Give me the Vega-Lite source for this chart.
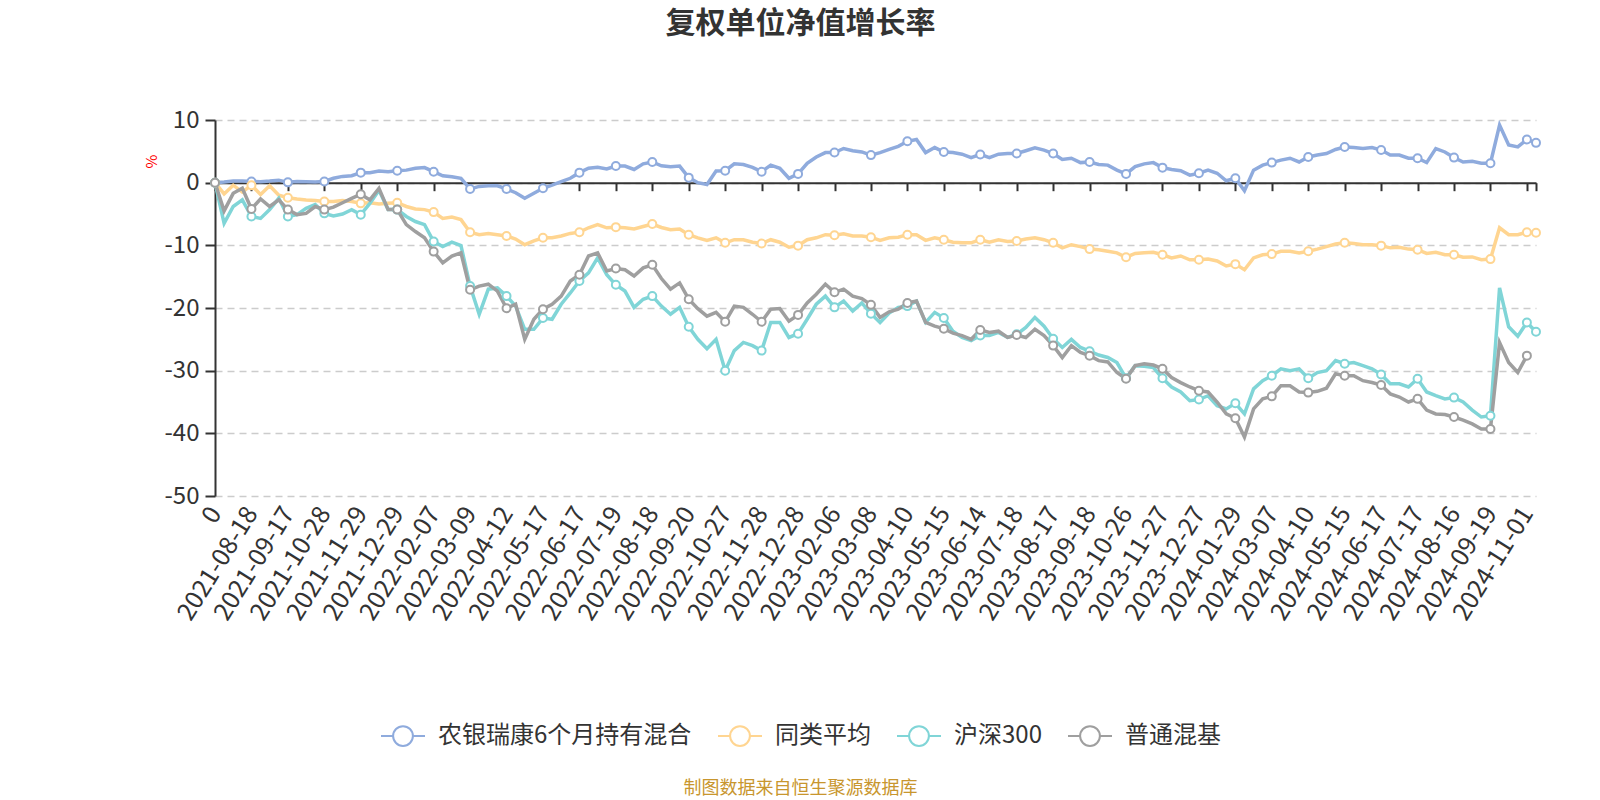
{
"$schema":"https://vega.github.io/schema/vega-lite/v6.json",
"width":1321,"height":376,
"autosize":"none",
"padding":{"left":215,"top":120,"right":64,"bottom":304},
"background":"#ffffff",
"config":{"view":{"stroke":null},"font":"Noto Sans CJK SC"},
"title":{"text":"复权单位净值增长率","fontSize":30,"fontWeight":"bold","color":"#333333","anchor":"middle","frame":"group","dx":-75,"baseline":"middle","offset":54},
"datasets":{"rows":[
{"d":"0","s":"农银瑞康6个月持有混合","v":0},{"d":"2021-07-27","s":"农银瑞康6个月持有混合","v":0.1},{"d":"2021-08-03","s":"农银瑞康6个月持有混合","v":0.25},{"d":"2021-08-10","s":"农银瑞康6个月持有混合","v":0.25},
{"d":"2021-08-18","s":"农银瑞康6个月持有混合","v":0.2},{"d":"2021-08-25","s":"农银瑞康6个月持有混合","v":0.15},{"d":"2021-09-01","s":"农银瑞康6个月持有混合","v":0.25},{"d":"2021-09-09","s":"农银瑞康6个月持有混合","v":0.4},
{"d":"2021-09-17","s":"农银瑞康6个月持有混合","v":0.05},{"d":"2021-09-29","s":"农银瑞康6个月持有混合","v":0.2},{"d":"2021-10-12","s":"农银瑞康6个月持有混合","v":0.15},{"d":"2021-10-20","s":"农银瑞康6个月持有混合","v":0.1},
{"d":"2021-10-28","s":"农银瑞康6个月持有混合","v":0.2},{"d":"2021-11-04","s":"农银瑞康6个月持有混合","v":0.7},{"d":"2021-11-12","s":"农银瑞康6个月持有混合","v":1.0},{"d":"2021-11-19","s":"农银瑞康6个月持有混合","v":1.1},
{"d":"2021-11-29","s":"农银瑞康6个月持有混合","v":1.6},{"d":"2021-12-06","s":"农银瑞康6个月持有混合","v":1.6},{"d":"2021-12-13","s":"农银瑞康6个月持有混合","v":1.85},{"d":"2021-12-21","s":"农银瑞康6个月持有混合","v":1.75},
{"d":"2021-12-29","s":"农银瑞康6个月持有混合","v":1.9},{"d":"2022-01-07","s":"农银瑞康6个月持有混合","v":2.0},{"d":"2022-01-17","s":"农银瑞康6个月持有混合","v":2.3},{"d":"2022-01-25","s":"农银瑞康6个月持有混合","v":2.4},
{"d":"2022-02-07","s":"农银瑞康6个月持有混合","v":1.75},{"d":"2022-02-15","s":"农银瑞康6个月持有混合","v":1.1},{"d":"2022-02-22","s":"农银瑞康6个月持有混合","v":0.95},{"d":"2022-03-01","s":"农银瑞康6个月持有混合","v":0.7},
{"d":"2022-03-09","s":"农银瑞康6个月持有混合","v":-1.0},{"d":"2022-03-17","s":"农银瑞康6个月持有混合","v":-0.6},{"d":"2022-03-25","s":"农银瑞康6个月持有混合","v":-0.5},{"d":"2022-04-01","s":"农银瑞康6个月持有混合","v":-0.5},
{"d":"2022-04-12","s":"农银瑞康6个月持有混合","v":-1.0},{"d":"2022-04-20","s":"农银瑞康6个月持有混合","v":-1.6},{"d":"2022-04-28","s":"农银瑞康6个月持有混合","v":-2.5},{"d":"2022-05-09","s":"农银瑞康6个月持有混合","v":-1.7},
{"d":"2022-05-17","s":"农银瑞康6个月持有混合","v":-0.9},{"d":"2022-05-25","s":"农银瑞康6个月持有混合","v":-0.4},{"d":"2022-06-01","s":"农银瑞康6个月持有混合","v":0.15},{"d":"2022-06-09","s":"农银瑞康6个月持有混合","v":0.7},
{"d":"2022-06-17","s":"农银瑞康6个月持有混合","v":1.6},{"d":"2022-06-24","s":"农银瑞康6个月持有混合","v":2.3},{"d":"2022-07-01","s":"农银瑞康6个月持有混合","v":2.45},{"d":"2022-07-11","s":"农银瑞康6个月持有混合","v":2.2},
{"d":"2022-07-19","s":"农银瑞康6个月持有混合","v":2.65},{"d":"2022-07-26","s":"农银瑞康6个月持有混合","v":2.65},{"d":"2022-08-02","s":"农银瑞康6个月持有混合","v":2.1},{"d":"2022-08-10","s":"农银瑞康6个月持有混合","v":3.0},
{"d":"2022-08-18","s":"农银瑞康6个月持有混合","v":3.3},{"d":"2022-08-25","s":"农银瑞康6个月持有混合","v":2.7},{"d":"2022-09-01","s":"农银瑞康6个月持有混合","v":2.55},{"d":"2022-09-09","s":"农银瑞康6个月持有混合","v":2.65},
{"d":"2022-09-20","s":"农银瑞康6个月持有混合","v":0.8},{"d":"2022-09-27","s":"农银瑞康6个月持有混合","v":0.0},{"d":"2022-10-12","s":"农银瑞康6个月持有混合","v":-0.3},{"d":"2022-10-19","s":"农银瑞康6个月持有混合","v":1.85},
{"d":"2022-10-27","s":"农银瑞康6个月持有混合","v":1.9},{"d":"2022-11-03","s":"农银瑞康6个月持有混合","v":3.0},{"d":"2022-11-10","s":"农银瑞康6个月持有混合","v":2.9},{"d":"2022-11-18","s":"农银瑞康6个月持有混合","v":2.45},
{"d":"2022-11-28","s":"农银瑞康6个月持有混合","v":1.75},{"d":"2022-12-05","s":"农银瑞康6个月持有混合","v":2.8},{"d":"2022-12-12","s":"农银瑞康6个月持有混合","v":2.3},{"d":"2022-12-20","s":"农银瑞康6个月持有混合","v":0.7},
{"d":"2022-12-28","s":"农银瑞康6个月持有混合","v":1.4},{"d":"2023-01-05","s":"农银瑞康6个月持有混合","v":3.1},{"d":"2023-01-12","s":"农银瑞康6个月持有混合","v":4.1},{"d":"2023-01-19","s":"农银瑞康6个月持有混合","v":4.8},
{"d":"2023-02-06","s":"农银瑞康6个月持有混合","v":4.8},{"d":"2023-02-13","s":"农银瑞康6个月持有混合","v":5.45},{"d":"2023-02-20","s":"农银瑞康6个月持有混合","v":5.1},{"d":"2023-02-28","s":"农银瑞康6个月持有混合","v":4.9},
{"d":"2023-03-08","s":"农银瑞康6个月持有混合","v":4.4},{"d":"2023-03-15","s":"农银瑞康6个月持有混合","v":4.8},{"d":"2023-03-23","s":"农银瑞康6个月持有混合","v":5.3},{"d":"2023-03-31","s":"农银瑞康6个月持有混合","v":5.8},
{"d":"2023-04-10","s":"农银瑞康6个月持有混合","v":6.6},{"d":"2023-04-18","s":"农银瑞康6个月持有混合","v":6.9},{"d":"2023-04-25","s":"农银瑞康6个月持有混合","v":4.8},{"d":"2023-05-05","s":"农银瑞康6个月持有混合","v":5.6},
{"d":"2023-05-15","s":"农银瑞康6个月持有混合","v":4.9},{"d":"2023-05-22","s":"农银瑞康6个月持有混合","v":4.8},{"d":"2023-05-30","s":"农银瑞康6个月持有混合","v":4.55},{"d":"2023-06-06","s":"农银瑞康6个月持有混合","v":4.0},
{"d":"2023-06-14","s":"农银瑞康6个月持有混合","v":4.5},{"d":"2023-06-21","s":"农银瑞康6个月持有混合","v":4.0},{"d":"2023-07-03","s":"农银瑞康6个月持有混合","v":4.55},{"d":"2023-07-10","s":"农银瑞康6个月持有混合","v":4.65},
{"d":"2023-07-18","s":"农银瑞康6个月持有混合","v":4.65},{"d":"2023-07-25","s":"农银瑞康6个月持有混合","v":5.1},{"d":"2023-08-02","s":"农银瑞康6个月持有混合","v":5.55},{"d":"2023-08-09","s":"农银瑞康6个月持有混合","v":5.2},
{"d":"2023-08-17","s":"农银瑞康6个月持有混合","v":4.65},{"d":"2023-08-24","s":"农银瑞康6个月持有混合","v":3.7},{"d":"2023-09-01","s":"农银瑞康6个月持有混合","v":3.9},{"d":"2023-09-08","s":"农银瑞康6个月持有混合","v":3.2},
{"d":"2023-09-18","s":"农银瑞康6个月持有混合","v":3.3},{"d":"2023-09-25","s":"农银瑞康6个月持有混合","v":2.9},{"d":"2023-10-09","s":"农银瑞康6个月持有混合","v":2.8},{"d":"2023-10-17","s":"农银瑞康6个月持有混合","v":2.0},
{"d":"2023-10-26","s":"农银瑞康6个月持有混合","v":1.4},{"d":"2023-11-02","s":"农银瑞康6个月持有混合","v":2.55},{"d":"2023-11-09","s":"农银瑞康6个月持有混合","v":3.0},{"d":"2023-11-17","s":"农银瑞康6个月持有混合","v":3.2},
{"d":"2023-11-27","s":"农银瑞康6个月持有混合","v":2.4},{"d":"2023-12-04","s":"农银瑞康6个月持有混合","v":2.1},{"d":"2023-12-11","s":"农银瑞康6个月持有混合","v":1.9},{"d":"2023-12-19","s":"农银瑞康6个月持有混合","v":1.2},
{"d":"2023-12-27","s":"农银瑞康6个月持有混合","v":1.5},{"d":"2024-01-04","s":"农银瑞康6个月持有混合","v":2.0},{"d":"2024-01-12","s":"农银瑞康6个月持有混合","v":1.5},{"d":"2024-01-19","s":"农银瑞康6个月持有混合","v":0.3},
{"d":"2024-01-29","s":"农银瑞康6个月持有混合","v":0.7},{"d":"2024-02-05","s":"农银瑞康6个月持有混合","v":-1.3},{"d":"2024-02-20","s":"农银瑞康6个月持有混合","v":2.0},{"d":"2024-02-28","s":"农银瑞康6个月持有混合","v":2.8},
{"d":"2024-03-07","s":"农银瑞康6个月持有混合","v":3.2},{"d":"2024-03-14","s":"农银瑞康6个月持有混合","v":3.6},{"d":"2024-03-22","s":"农银瑞康6个月持有混合","v":3.9},{"d":"2024-03-29","s":"农银瑞康6个月持有混合","v":3.3},
{"d":"2024-04-10","s":"农银瑞康6个月持有混合","v":4.1},{"d":"2024-04-18","s":"农银瑞康6个月持有混合","v":4.4},{"d":"2024-04-25","s":"农银瑞康6个月持有混合","v":4.65},{"d":"2024-05-07","s":"农银瑞康6个月持有混合","v":5.3},
{"d":"2024-05-15","s":"农银瑞康6个月持有混合","v":5.7},{"d":"2024-05-22","s":"农银瑞康6个月持有混合","v":5.6},{"d":"2024-05-29","s":"农银瑞康6个月持有混合","v":5.45},{"d":"2024-06-05","s":"农银瑞康6个月持有混合","v":5.6},
{"d":"2024-06-17","s":"农银瑞康6个月持有混合","v":5.2},{"d":"2024-06-24","s":"农银瑞康6个月持有混合","v":4.4},{"d":"2024-07-01","s":"农银瑞康6个月持有混合","v":4.4},{"d":"2024-07-09","s":"农银瑞康6个月持有混合","v":3.9},
{"d":"2024-07-17","s":"农银瑞康6个月持有混合","v":3.9},{"d":"2024-07-24","s":"农银瑞康6个月持有混合","v":3.2},{"d":"2024-07-31","s":"农银瑞康6个月持有混合","v":5.45},{"d":"2024-08-08","s":"农银瑞康6个月持有混合","v":4.9},
{"d":"2024-08-16","s":"农银瑞康6个月持有混合","v":4.0},{"d":"2024-08-23","s":"农银瑞康6个月持有混合","v":3.3},{"d":"2024-08-30","s":"农银瑞康6个月持有混合","v":3.4},{"d":"2024-09-06","s":"农银瑞康6个月持有混合","v":3.1},
{"d":"2024-09-19","s":"农银瑞康6个月持有混合","v":3.1},{"d":"2024-09-26","s":"农银瑞康6个月持有混合","v":9.2},{"d":"2024-10-11","s":"农银瑞康6个月持有混合","v":6.0},{"d":"2024-10-22","s":"农银瑞康6个月持有混合","v":5.7},
{"d":"2024-11-01","s":"农银瑞康6个月持有混合","v":6.9},{"d":"2024-11-06","s":"农银瑞康6个月持有混合","v":6.35},

{"d":"0","s":"同类平均","v":0},{"d":"2021-07-27","s":"同类平均","v":-1.8},{"d":"2021-08-03","s":"同类平均","v":-0.4},{"d":"2021-08-10","s":"同类平均","v":-1.5},
{"d":"2021-08-18","s":"同类平均","v":-0.4},{"d":"2021-08-25","s":"同类平均","v":-1.9},{"d":"2021-09-01","s":"同类平均","v":-0.5},{"d":"2021-09-09","s":"同类平均","v":-2.0},
{"d":"2021-09-17","s":"同类平均","v":-2.4},{"d":"2021-09-29","s":"同类平均","v":-2.6},{"d":"2021-10-12","s":"同类平均","v":-2.75},{"d":"2021-10-20","s":"同类平均","v":-2.85},
{"d":"2021-10-28","s":"同类平均","v":-3.0},{"d":"2021-11-04","s":"同类平均","v":-3.0},{"d":"2021-11-12","s":"同类平均","v":-2.85},{"d":"2021-11-19","s":"同类平均","v":-3.0},
{"d":"2021-11-29","s":"同类平均","v":-3.3},{"d":"2021-12-06","s":"同类平均","v":-3.2},{"d":"2021-12-13","s":"同类平均","v":-3.4},{"d":"2021-12-21","s":"同类平均","v":-3.3},
{"d":"2021-12-29","s":"同类平均","v":-3.2},{"d":"2022-01-07","s":"同类平均","v":-3.8},{"d":"2022-01-17","s":"同类平均","v":-4.2},{"d":"2022-01-25","s":"同类平均","v":-4.3},
{"d":"2022-02-07","s":"同类平均","v":-4.7},{"d":"2022-02-15","s":"同类平均","v":-5.7},{"d":"2022-02-22","s":"同类平均","v":-5.5},{"d":"2022-03-01","s":"同类平均","v":-5.9},
{"d":"2022-03-09","s":"同类平均","v":-7.9},{"d":"2022-03-17","s":"同类平均","v":-8.3},{"d":"2022-03-25","s":"同类平均","v":-8.1},{"d":"2022-04-01","s":"同类平均","v":-8.3},
{"d":"2022-04-12","s":"同类平均","v":-8.5},{"d":"2022-04-20","s":"同类平均","v":-9.0},{"d":"2022-04-28","s":"同类平均","v":-9.9},{"d":"2022-05-09","s":"同类平均","v":-9.3},
{"d":"2022-05-17","s":"同类平均","v":-8.8},{"d":"2022-05-25","s":"同类平均","v":-8.8},{"d":"2022-06-01","s":"同类平均","v":-8.5},{"d":"2022-06-09","s":"同类平均","v":-8.1},
{"d":"2022-06-17","s":"同类平均","v":-7.9},{"d":"2022-06-24","s":"同类平均","v":-7.2},{"d":"2022-07-01","s":"同类平均","v":-6.7},{"d":"2022-07-11","s":"同类平均","v":-7.2},
{"d":"2022-07-19","s":"同类平均","v":-7.1},{"d":"2022-07-26","s":"同类平均","v":-7.2},{"d":"2022-08-02","s":"同类平均","v":-7.4},{"d":"2022-08-10","s":"同类平均","v":-7.0},
{"d":"2022-08-18","s":"同类平均","v":-6.6},{"d":"2022-08-25","s":"同类平均","v":-7.15},{"d":"2022-09-01","s":"同类平均","v":-7.5},{"d":"2022-09-09","s":"同类平均","v":-7.4},
{"d":"2022-09-20","s":"同类平均","v":-8.3},{"d":"2022-09-27","s":"同类平均","v":-8.8},{"d":"2022-10-12","s":"同类平均","v":-9.2},{"d":"2022-10-19","s":"同类平均","v":-8.8},
{"d":"2022-10-27","s":"同类平均","v":-9.6},{"d":"2022-11-03","s":"同类平均","v":-9.1},{"d":"2022-11-10","s":"同类平均","v":-9.1},{"d":"2022-11-18","s":"同类平均","v":-9.5},
{"d":"2022-11-28","s":"同类平均","v":-9.7},{"d":"2022-12-05","s":"同类平均","v":-9.1},{"d":"2022-12-12","s":"同类平均","v":-9.5},{"d":"2022-12-20","s":"同类平均","v":-10.3},
{"d":"2022-12-28","s":"同类平均","v":-10.05},{"d":"2023-01-05","s":"同类平均","v":-9.1},{"d":"2023-01-12","s":"同类平均","v":-8.8},{"d":"2023-01-19","s":"同类平均","v":-8.3},
{"d":"2023-02-06","s":"同类平均","v":-8.4},{"d":"2023-02-13","s":"同类平均","v":-8.15},{"d":"2023-02-20","s":"同类平均","v":-8.5},{"d":"2023-02-28","s":"同类平均","v":-8.5},
{"d":"2023-03-08","s":"同类平均","v":-8.7},{"d":"2023-03-15","s":"同类平均","v":-9.2},{"d":"2023-03-23","s":"同类平均","v":-8.8},{"d":"2023-03-31","s":"同类平均","v":-8.7},
{"d":"2023-04-10","s":"同类平均","v":-8.3},{"d":"2023-04-18","s":"同类平均","v":-8.3},{"d":"2023-04-25","s":"同类平均","v":-9.2},{"d":"2023-05-05","s":"同类平均","v":-8.8},
{"d":"2023-05-15","s":"同类平均","v":-9.1},{"d":"2023-05-22","s":"同类平均","v":-9.5},{"d":"2023-05-30","s":"同类平均","v":-9.6},{"d":"2023-06-06","s":"同类平均","v":-9.6},
{"d":"2023-06-14","s":"同类平均","v":-9.1},{"d":"2023-06-21","s":"同类平均","v":-9.5},{"d":"2023-07-03","s":"同类平均","v":-9.1},{"d":"2023-07-10","s":"同类平均","v":-9.4},
{"d":"2023-07-18","s":"同类平均","v":-9.3},{"d":"2023-07-25","s":"同类平均","v":-9.0},{"d":"2023-08-02","s":"同类平均","v":-8.8},{"d":"2023-08-09","s":"同类平均","v":-9.1},
{"d":"2023-08-17","s":"同类平均","v":-9.6},{"d":"2023-08-24","s":"同类平均","v":-10.4},{"d":"2023-09-01","s":"同类平均","v":-9.9},{"d":"2023-09-08","s":"同类平均","v":-10.2},
{"d":"2023-09-18","s":"同类平均","v":-10.6},{"d":"2023-09-25","s":"同类平均","v":-10.7},{"d":"2023-10-09","s":"同类平均","v":-10.95},{"d":"2023-10-17","s":"同类平均","v":-11.2},
{"d":"2023-10-26","s":"同类平均","v":-11.9},{"d":"2023-11-02","s":"同类平均","v":-11.3},{"d":"2023-11-09","s":"同类平均","v":-11.2},{"d":"2023-11-17","s":"同类平均","v":-11.1},
{"d":"2023-11-27","s":"同类平均","v":-11.5},{"d":"2023-12-04","s":"同类平均","v":-12.0},{"d":"2023-12-11","s":"同类平均","v":-11.7},{"d":"2023-12-19","s":"同类平均","v":-12.3},
{"d":"2023-12-27","s":"同类平均","v":-12.3},{"d":"2024-01-04","s":"同类平均","v":-12.2},{"d":"2024-01-12","s":"同类平均","v":-12.5},{"d":"2024-01-19","s":"同类平均","v":-13.3},
{"d":"2024-01-29","s":"同类平均","v":-13.0},{"d":"2024-02-05","s":"同类平均","v":-13.9},{"d":"2024-02-20","s":"同类平均","v":-12.0},{"d":"2024-02-28","s":"同类平均","v":-11.5},
{"d":"2024-03-07","s":"同类平均","v":-11.4},{"d":"2024-03-14","s":"同类平均","v":-10.95},{"d":"2024-03-22","s":"同类平均","v":-10.95},{"d":"2024-03-29","s":"同类平均","v":-11.2},
{"d":"2024-04-10","s":"同类平均","v":-10.95},{"d":"2024-04-18","s":"同类平均","v":-10.6},{"d":"2024-04-25","s":"同类平均","v":-10.2},{"d":"2024-05-07","s":"同类平均","v":-9.8},
{"d":"2024-05-15","s":"同类平均","v":-9.6},{"d":"2024-05-22","s":"同类平均","v":-9.7},{"d":"2024-05-29","s":"同类平均","v":-9.9},{"d":"2024-06-05","s":"同类平均","v":-9.9},
{"d":"2024-06-17","s":"同类平均","v":-10.05},{"d":"2024-06-24","s":"同类平均","v":-10.4},{"d":"2024-07-01","s":"同类平均","v":-10.3},{"d":"2024-07-09","s":"同类平均","v":-10.6},
{"d":"2024-07-17","s":"同类平均","v":-10.7},{"d":"2024-07-24","s":"同类平均","v":-11.3},{"d":"2024-07-31","s":"同类平均","v":-11.1},{"d":"2024-08-08","s":"同类平均","v":-11.5},
{"d":"2024-08-16","s":"同类平均","v":-11.5},{"d":"2024-08-23","s":"同类平均","v":-11.9},{"d":"2024-08-30","s":"同类平均","v":-11.85},{"d":"2024-09-06","s":"同类平均","v":-12.3},
{"d":"2024-09-19","s":"同类平均","v":-12.2},{"d":"2024-09-26","s":"同类平均","v":-7.2},{"d":"2024-10-11","s":"同类平均","v":-8.3},{"d":"2024-10-22","s":"同类平均","v":-8.3},
{"d":"2024-11-01","s":"同类平均","v":-7.9},{"d":"2024-11-06","s":"同类平均","v":-8.0},

{"d":"0","s":"沪深300","v":0},{"d":"2021-07-27","s":"沪深300","v":-6.5},{"d":"2021-08-03","s":"沪深300","v":-3.8},{"d":"2021-08-10","s":"沪深300","v":-2.75},
{"d":"2021-08-18","s":"沪深300","v":-5.4},{"d":"2021-08-25","s":"沪深300","v":-5.7},{"d":"2021-09-01","s":"沪深300","v":-4.3},{"d":"2021-09-09","s":"沪深300","v":-2.5},
{"d":"2021-09-17","s":"沪深300","v":-5.4},{"d":"2021-09-29","s":"沪深300","v":-5.1},{"d":"2021-10-12","s":"沪深300","v":-4.1},{"d":"2021-10-20","s":"沪深300","v":-3.5},
{"d":"2021-10-28","s":"沪深300","v":-4.9},{"d":"2021-11-04","s":"沪深300","v":-5.3},{"d":"2021-11-12","s":"沪深300","v":-5.0},{"d":"2021-11-19","s":"沪深300","v":-4.3},
{"d":"2021-11-29","s":"沪深300","v":-5.1},{"d":"2021-12-06","s":"沪深300","v":-3.3},{"d":"2021-12-13","s":"沪深300","v":-1.2},{"d":"2021-12-21","s":"沪深300","v":-4.3},
{"d":"2021-12-29","s":"沪深300","v":-4.3},{"d":"2022-01-07","s":"沪深300","v":-5.4},{"d":"2022-01-17","s":"沪深300","v":-6.2},{"d":"2022-01-25","s":"沪深300","v":-6.7},
{"d":"2022-02-07","s":"沪深300","v":-9.4},{"d":"2022-02-15","s":"沪深300","v":-10.2},{"d":"2022-02-22","s":"沪深300","v":-9.5},{"d":"2022-03-01","s":"沪深300","v":-10.05},
{"d":"2022-03-09","s":"沪深300","v":-16.5},{"d":"2022-03-17","s":"沪深300","v":-21.0},{"d":"2022-03-25","s":"沪深300","v":-17.0},{"d":"2022-04-01","s":"沪深300","v":-16.8},
{"d":"2022-04-12","s":"沪深300","v":-18.1},{"d":"2022-04-20","s":"沪深300","v":-19.7},{"d":"2022-04-28","s":"沪深300","v":-23.4},{"d":"2022-05-09","s":"沪深300","v":-23.4},
{"d":"2022-05-17","s":"沪深300","v":-21.6},{"d":"2022-05-25","s":"沪深300","v":-21.8},{"d":"2022-06-01","s":"沪深300","v":-19.4},{"d":"2022-06-09","s":"沪深300","v":-17.6},
{"d":"2022-06-17","s":"沪深300","v":-15.7},{"d":"2022-06-24","s":"沪深300","v":-14.4},{"d":"2022-07-01","s":"沪深300","v":-12.0},{"d":"2022-07-11","s":"沪深300","v":-14.7},
{"d":"2022-07-19","s":"沪深300","v":-16.3},{"d":"2022-07-26","s":"沪深300","v":-17.3},{"d":"2022-08-02","s":"沪深300","v":-19.9},{"d":"2022-08-10","s":"沪深300","v":-18.6},
{"d":"2022-08-18","s":"沪深300","v":-18.1},{"d":"2022-08-25","s":"沪深300","v":-19.7},{"d":"2022-09-01","s":"沪深300","v":-21.0},{"d":"2022-09-09","s":"沪深300","v":-19.9},
{"d":"2022-09-20","s":"沪深300","v":-23.0},{"d":"2022-09-27","s":"沪深300","v":-25.0},{"d":"2022-10-12","s":"沪深300","v":-26.5},{"d":"2022-10-19","s":"沪深300","v":-25.0},
{"d":"2022-10-27","s":"沪深300","v":-30.0},{"d":"2022-11-03","s":"沪深300","v":-26.8},{"d":"2022-11-10","s":"沪深300","v":-25.5},{"d":"2022-11-18","s":"沪深300","v":-26.0},
{"d":"2022-11-28","s":"沪深300","v":-26.8},{"d":"2022-12-05","s":"沪深300","v":-22.3},{"d":"2022-12-12","s":"沪深300","v":-22.3},{"d":"2022-12-20","s":"沪深300","v":-24.7},
{"d":"2022-12-28","s":"沪深300","v":-24.1},{"d":"2023-01-05","s":"沪深300","v":-21.8},{"d":"2023-01-12","s":"沪深300","v":-19.4},{"d":"2023-01-19","s":"沪深300","v":-18.1},
{"d":"2023-02-06","s":"沪深300","v":-19.9},{"d":"2023-02-13","s":"沪深300","v":-18.9},{"d":"2023-02-20","s":"沪深300","v":-20.5},{"d":"2023-02-28","s":"沪深300","v":-19.2},
{"d":"2023-03-08","s":"沪深300","v":-20.9},{"d":"2023-03-15","s":"沪深300","v":-22.3},{"d":"2023-03-23","s":"沪深300","v":-20.8},{"d":"2023-03-31","s":"沪深300","v":-19.9},
{"d":"2023-04-10","s":"沪深300","v":-19.7},{"d":"2023-04-18","s":"沪深300","v":-18.9},{"d":"2023-04-25","s":"沪深300","v":-22.3},{"d":"2023-05-05","s":"沪深300","v":-20.7},
{"d":"2023-05-15","s":"沪深300","v":-21.6},{"d":"2023-05-22","s":"沪深300","v":-23.7},{"d":"2023-05-30","s":"沪深300","v":-24.7},{"d":"2023-06-06","s":"沪深300","v":-25.2},
{"d":"2023-06-14","s":"沪深300","v":-24.4},{"d":"2023-06-21","s":"沪深300","v":-24.4},{"d":"2023-07-03","s":"沪深300","v":-23.9},{"d":"2023-07-10","s":"沪深300","v":-24.7},
{"d":"2023-07-18","s":"沪深300","v":-24.2},{"d":"2023-07-25","s":"沪深300","v":-23.1},{"d":"2023-08-02","s":"沪深300","v":-21.5},{"d":"2023-08-09","s":"沪深300","v":-22.9},
{"d":"2023-08-17","s":"沪深300","v":-24.9},{"d":"2023-08-24","s":"沪深300","v":-26.3},{"d":"2023-09-01","s":"沪深300","v":-25.0},{"d":"2023-09-08","s":"沪深300","v":-26.3},
{"d":"2023-09-18","s":"沪深300","v":-26.9},{"d":"2023-09-25","s":"沪深300","v":-27.5},{"d":"2023-10-09","s":"沪深300","v":-27.9},{"d":"2023-10-17","s":"沪深300","v":-28.7},
{"d":"2023-10-26","s":"沪深300","v":-31.2},{"d":"2023-11-02","s":"沪深300","v":-29.2},{"d":"2023-11-09","s":"沪深300","v":-29.3},{"d":"2023-11-17","s":"沪深300","v":-29.5},
{"d":"2023-11-27","s":"沪深300","v":-31.2},{"d":"2023-12-04","s":"沪深300","v":-32.6},{"d":"2023-12-11","s":"沪深300","v":-33.4},{"d":"2023-12-19","s":"沪深300","v":-34.8},
{"d":"2023-12-27","s":"沪深300","v":-34.6},{"d":"2024-01-04","s":"沪深300","v":-34.0},{"d":"2024-01-12","s":"沪深300","v":-35.6},{"d":"2024-01-19","s":"沪深300","v":-36.1},
{"d":"2024-01-29","s":"沪深300","v":-35.2},{"d":"2024-02-05","s":"沪深300","v":-36.9},{"d":"2024-02-20","s":"沪深300","v":-32.9},{"d":"2024-02-28","s":"沪深300","v":-31.6},
{"d":"2024-03-07","s":"沪深300","v":-30.8},{"d":"2024-03-14","s":"沪深300","v":-29.7},{"d":"2024-03-22","s":"沪深300","v":-30.0},{"d":"2024-03-29","s":"沪深300","v":-29.7},
{"d":"2024-04-10","s":"沪深300","v":-31.2},{"d":"2024-04-18","s":"沪深300","v":-30.3},{"d":"2024-04-25","s":"沪深300","v":-30.0},{"d":"2024-05-07","s":"沪深300","v":-28.4},
{"d":"2024-05-15","s":"沪深300","v":-28.9},{"d":"2024-05-22","s":"沪深300","v":-28.7},{"d":"2024-05-29","s":"沪深300","v":-29.2},{"d":"2024-06-05","s":"沪深300","v":-29.7},
{"d":"2024-06-17","s":"沪深300","v":-30.6},{"d":"2024-06-24","s":"沪深300","v":-32.1},{"d":"2024-07-01","s":"沪深300","v":-32.1},{"d":"2024-07-09","s":"沪深300","v":-32.6},
{"d":"2024-07-17","s":"沪深300","v":-31.3},{"d":"2024-07-24","s":"沪深300","v":-33.4},{"d":"2024-07-31","s":"沪深300","v":-34.0},{"d":"2024-08-08","s":"沪深300","v":-34.5},
{"d":"2024-08-16","s":"沪深300","v":-34.3},{"d":"2024-08-23","s":"沪深300","v":-35.0},{"d":"2024-08-30","s":"沪深300","v":-36.3},{"d":"2024-09-06","s":"沪深300","v":-37.4},
{"d":"2024-09-19","s":"沪深300","v":-37.2},{"d":"2024-09-26","s":"沪深300","v":-16.8},{"d":"2024-10-11","s":"沪深300","v":-23.0},{"d":"2024-10-22","s":"沪深300","v":-24.5},
{"d":"2024-11-01","s":"沪深300","v":-22.3},{"d":"2024-11-06","s":"沪深300","v":-23.8},

{"d":"0","s":"普通混基","v":0},{"d":"2021-07-27","s":"普通混基","v":-4.5},{"d":"2021-08-03","s":"普通混基","v":-1.7},{"d":"2021-08-10","s":"普通混基","v":-0.9},
{"d":"2021-08-18","s":"普通混基","v":-4.2},{"d":"2021-08-25","s":"普通混基","v":-2.6},{"d":"2021-09-01","s":"普通混基","v":-3.8},{"d":"2021-09-09","s":"普通混基","v":-2.75},
{"d":"2021-09-17","s":"普通混基","v":-4.3},{"d":"2021-09-29","s":"普通混基","v":-5.1},{"d":"2021-10-12","s":"普通混基","v":-4.9},{"d":"2021-10-20","s":"普通混基","v":-3.8},
{"d":"2021-10-28","s":"普通混基","v":-4.3},{"d":"2021-11-04","s":"普通混基","v":-3.9},{"d":"2021-11-12","s":"普通混基","v":-3.2},{"d":"2021-11-19","s":"普通混基","v":-2.5},
{"d":"2021-11-29","s":"普通混基","v":-1.85},{"d":"2021-12-06","s":"普通混基","v":-2.75},{"d":"2021-12-13","s":"普通混基","v":-0.9},{"d":"2021-12-21","s":"普通混基","v":-4.3},
{"d":"2021-12-29","s":"普通混基","v":-4.3},{"d":"2022-01-07","s":"普通混基","v":-6.7},{"d":"2022-01-17","s":"普通混基","v":-7.8},{"d":"2022-01-25","s":"普通混基","v":-8.8},
{"d":"2022-02-07","s":"普通混基","v":-11.0},{"d":"2022-02-15","s":"普通混基","v":-12.8},{"d":"2022-02-22","s":"普通混基","v":-11.7},{"d":"2022-03-01","s":"普通混基","v":-11.2},
{"d":"2022-03-09","s":"普通混基","v":-17.1},{"d":"2022-03-17","s":"普通混基","v":-16.5},{"d":"2022-03-25","s":"普通混基","v":-16.2},{"d":"2022-04-01","s":"普通混基","v":-17.3},
{"d":"2022-04-12","s":"普通混基","v":-20.05},{"d":"2022-04-20","s":"普通混基","v":-19.4},{"d":"2022-04-28","s":"普通混基","v":-25.0},{"d":"2022-05-09","s":"普通混基","v":-21.8},
{"d":"2022-05-17","s":"普通混基","v":-20.2},{"d":"2022-05-25","s":"普通混基","v":-19.4},{"d":"2022-06-01","s":"普通混基","v":-18.1},{"d":"2022-06-09","s":"普通混基","v":-15.7},
{"d":"2022-06-17","s":"普通混基","v":-14.7},{"d":"2022-06-24","s":"普通混基","v":-11.7},{"d":"2022-07-01","s":"普通混基","v":-11.2},{"d":"2022-07-11","s":"普通混基","v":-14.1},
{"d":"2022-07-19","s":"普通混基","v":-13.7},{"d":"2022-07-26","s":"普通混基","v":-13.9},{"d":"2022-08-02","s":"普通混基","v":-14.9},{"d":"2022-08-10","s":"普通混基","v":-13.6},
{"d":"2022-08-18","s":"普通混基","v":-13.1},{"d":"2022-08-25","s":"普通混基","v":-15.3},{"d":"2022-09-01","s":"普通混基","v":-17.0},{"d":"2022-09-09","s":"普通混基","v":-16.0},
{"d":"2022-09-20","s":"普通混基","v":-18.6},{"d":"2022-09-27","s":"普通混基","v":-20.1},{"d":"2022-10-12","s":"普通混基","v":-21.3},{"d":"2022-10-19","s":"普通混基","v":-20.7},
{"d":"2022-10-27","s":"普通混基","v":-22.2},{"d":"2022-11-03","s":"普通混基","v":-19.7},{"d":"2022-11-10","s":"普通混基","v":-19.9},{"d":"2022-11-18","s":"普通混基","v":-21.0},
{"d":"2022-11-28","s":"普通混基","v":-22.2},{"d":"2022-12-05","s":"普通混基","v":-20.2},{"d":"2022-12-12","s":"普通混基","v":-20.1},{"d":"2022-12-20","s":"普通混基","v":-22.1},
{"d":"2022-12-28","s":"普通混基","v":-21.1},{"d":"2023-01-05","s":"普通混基","v":-19.2},{"d":"2023-01-12","s":"普通混基","v":-17.8},{"d":"2023-01-19","s":"普通混基","v":-16.2},
{"d":"2023-02-06","s":"普通混基","v":-17.5},{"d":"2023-02-13","s":"普通混基","v":-17.0},{"d":"2023-02-20","s":"普通混基","v":-18.1},{"d":"2023-02-28","s":"普通混基","v":-18.5},
{"d":"2023-03-08","s":"普通混基","v":-19.5},{"d":"2023-03-15","s":"普通混基","v":-21.5},{"d":"2023-03-23","s":"普通混基","v":-20.6},{"d":"2023-03-31","s":"普通混基","v":-20.2},
{"d":"2023-04-10","s":"普通混基","v":-19.2},{"d":"2023-04-18","s":"普通混基","v":-18.9},{"d":"2023-04-25","s":"普通混基","v":-22.3},{"d":"2023-05-05","s":"普通混基","v":-22.9},
{"d":"2023-05-15","s":"普通混基","v":-23.3},{"d":"2023-05-22","s":"普通混基","v":-24.0},{"d":"2023-05-30","s":"普通混基","v":-24.4},{"d":"2023-06-06","s":"普通混基","v":-25.0},
{"d":"2023-06-14","s":"普通混基","v":-23.5},{"d":"2023-06-21","s":"普通混基","v":-23.9},{"d":"2023-07-03","s":"普通混基","v":-23.7},{"d":"2023-07-10","s":"普通混基","v":-24.7},
{"d":"2023-07-18","s":"普通混基","v":-24.3},{"d":"2023-07-25","s":"普通混基","v":-24.7},{"d":"2023-08-02","s":"普通混基","v":-23.4},{"d":"2023-08-09","s":"普通混基","v":-24.4},
{"d":"2023-08-17","s":"普通混基","v":-26.0},{"d":"2023-08-24","s":"普通混基","v":-27.9},{"d":"2023-09-01","s":"普通混基","v":-26.0},{"d":"2023-09-08","s":"普通混基","v":-27.1},
{"d":"2023-09-18","s":"普通混基","v":-27.6},{"d":"2023-09-25","s":"普通混基","v":-28.4},{"d":"2023-10-09","s":"普通混基","v":-28.6},{"d":"2023-10-17","s":"普通混基","v":-30.3},
{"d":"2023-10-26","s":"普通混基","v":-31.3},{"d":"2023-11-02","s":"普通混基","v":-29.2},{"d":"2023-11-09","s":"普通混基","v":-28.9},{"d":"2023-11-17","s":"普通混基","v":-29.1},
{"d":"2023-11-27","s":"普通混基","v":-29.7},{"d":"2023-12-04","s":"普通混基","v":-31.1},{"d":"2023-12-11","s":"普通混基","v":-31.9},{"d":"2023-12-19","s":"普通混基","v":-32.6},
{"d":"2023-12-27","s":"普通混基","v":-33.2},{"d":"2024-01-04","s":"普通混基","v":-33.4},{"d":"2024-01-12","s":"普通混基","v":-35.0},{"d":"2024-01-19","s":"普通混基","v":-36.9},
{"d":"2024-01-29","s":"普通混基","v":-37.6},{"d":"2024-02-05","s":"普通混基","v":-40.6},{"d":"2024-02-20","s":"普通混基","v":-36.1},{"d":"2024-02-28","s":"普通混基","v":-34.5},
{"d":"2024-03-07","s":"普通混基","v":-34.1},{"d":"2024-03-14","s":"普通混基","v":-32.4},{"d":"2024-03-22","s":"普通混基","v":-32.4},{"d":"2024-03-29","s":"普通混基","v":-33.4},
{"d":"2024-04-10","s":"普通混基","v":-33.5},{"d":"2024-04-18","s":"普通混基","v":-33.3},{"d":"2024-04-25","s":"普通混基","v":-32.8},{"d":"2024-05-07","s":"普通混基","v":-30.5},
{"d":"2024-05-15","s":"普通混基","v":-30.8},{"d":"2024-05-22","s":"普通混基","v":-30.8},{"d":"2024-05-29","s":"普通混基","v":-31.6},{"d":"2024-06-05","s":"普通混基","v":-31.9},
{"d":"2024-06-17","s":"普通混基","v":-32.3},{"d":"2024-06-24","s":"普通混基","v":-33.7},{"d":"2024-07-01","s":"普通混基","v":-34.2},{"d":"2024-07-09","s":"普通混基","v":-35.0},
{"d":"2024-07-17","s":"普通混基","v":-34.5},{"d":"2024-07-24","s":"普通混基","v":-36.3},{"d":"2024-07-31","s":"普通混基","v":-36.9},{"d":"2024-08-08","s":"普通混基","v":-37.0},
{"d":"2024-08-16","s":"普通混基","v":-37.4},{"d":"2024-08-23","s":"普通混基","v":-37.9},{"d":"2024-08-30","s":"普通混基","v":-38.5},{"d":"2024-09-06","s":"普通混基","v":-39.3},
{"d":"2024-09-19","s":"普通混基","v":-39.3},{"d":"2024-09-26","s":"普通混基","v":-25.5},{"d":"2024-10-11","s":"普通混基","v":-28.7},{"d":"2024-10-22","s":"普通混基","v":-30.3},
{"d":"2024-11-01","s":"普通混基","v":-27.6}
]},
"data":{"name":"rows"},
"encoding":{
"x":{"field":"d","type":"ordinal","scale":{"type":"point","padding":0},
"axis":{"values":["0","2021-08-18","2021-09-17","2021-10-28","2021-11-29","2021-12-29","2022-02-07","2022-03-09","2022-04-12","2022-05-17","2022-06-17","2022-07-19","2022-08-18","2022-09-20","2022-10-27","2022-11-28","2022-12-28","2023-02-06","2023-03-08","2023-04-10","2023-05-15","2023-06-14","2023-07-18","2023-08-17","2023-09-18","2023-10-26","2023-11-27","2023-12-27","2024-01-29","2024-03-07","2024-04-10","2024-05-15","2024-06-17","2024-07-17","2024-08-16","2024-09-19","2024-11-01","2024-11-06"],
"labelExpr":"datum.label == '2024-11-06' ? '' : datum.label",
"labelAngle":-58,"labelAlign":"right","labelBaseline":"middle","labelFontSize":25,"labelColor":"#333333","labelPadding":318,"labelOverlap":false,"labelFlush":false,
"offset":-313.3,"domainColor":"#333333","domainWidth":2,"tickColor":"#333333","tickWidth":2,"tickSize":8,"grid":false,
"title":"制图数据来自恒生聚源数据库","titleColor":"#c8962e","titleFontSize":18,"titleFontWeight":"normal","titleX":585,"titleY":606,"titleAlign":"center","titleBaseline":"middle"}},
"y":{"field":"v","type":"quantitative","scale":{"domain":[-50,10]},
"axis":{"values":[-50,-40,-30,-20,-10,0,10],"labelExpr":"'' + datum.value","labelFontSize":24,"labelColor":"#333333","labelPadding":6,
"domainColor":"#333333","domainWidth":2,"tickColor":"#333333","tickWidth":2,"tickSize":10,
"gridColor":"#cccccc","gridDash":[7,5],"gridWidth":1.5,
"title":"%","titleColor":"#ff0000","titleFontSize":15,"titleFontWeight":"normal","titleX":-64,"titleY":41,"titleAlign":"center","titleBaseline":"middle"}},
"color":{"field":"s","type":"nominal",
"scale":{"domain":["农银瑞康6个月持有混合","同类平均","沪深300","普通混基"],"range":["#8fabdd","#ffd591","#80d5d7","#9f9f9f"]},
"legend":{"orient":"none","legendX":165,"legendY":593,"direction":"horizontal","title":null,
"symbolType":"M-1,0H-0.45M0.45,0H1M0.45,0A0.45,0.45,0,1,1,-0.45,0A0.45,0.45,0,1,1,0.45,0",
"symbolSize":1936,"symbolStrokeWidth":2,"labelFontSize":24,"labelColor":"#333333","labelOffset":12,"labelLimit":500,"columnPadding":22,"labelFont":"Noto Sans CJK SC",
"encode":{"symbols":{"update":{"fill":{"value":"#ffffff"},"fillOpacity":{"value":1}}}}}}
},
"layer":[
{"mark":{"type":"line","strokeWidth":3.5,"interpolate":"linear"}},
{"transform":[{"filter":{"field":"d","oneOf":["0","2021-08-18","2021-09-17","2021-10-28","2021-11-29","2021-12-29","2022-02-07","2022-03-09","2022-04-12","2022-05-17","2022-06-17","2022-07-19","2022-08-18","2022-09-20","2022-10-27","2022-11-28","2022-12-28","2023-02-06","2023-03-08","2023-04-10","2023-05-15","2023-06-14","2023-07-18","2023-08-17","2023-09-18","2023-10-26","2023-11-27","2023-12-27","2024-01-29","2024-03-07","2024-04-10","2024-05-15","2024-06-17","2024-07-17","2024-08-16","2024-09-19","2024-11-01","2024-11-06"]}}],
"mark":{"type":"point","shape":"circle","filled":false,"fill":"#ffffff","fillOpacity":1,"size":64,"strokeWidth":2,"opacity":1}}
]
}
